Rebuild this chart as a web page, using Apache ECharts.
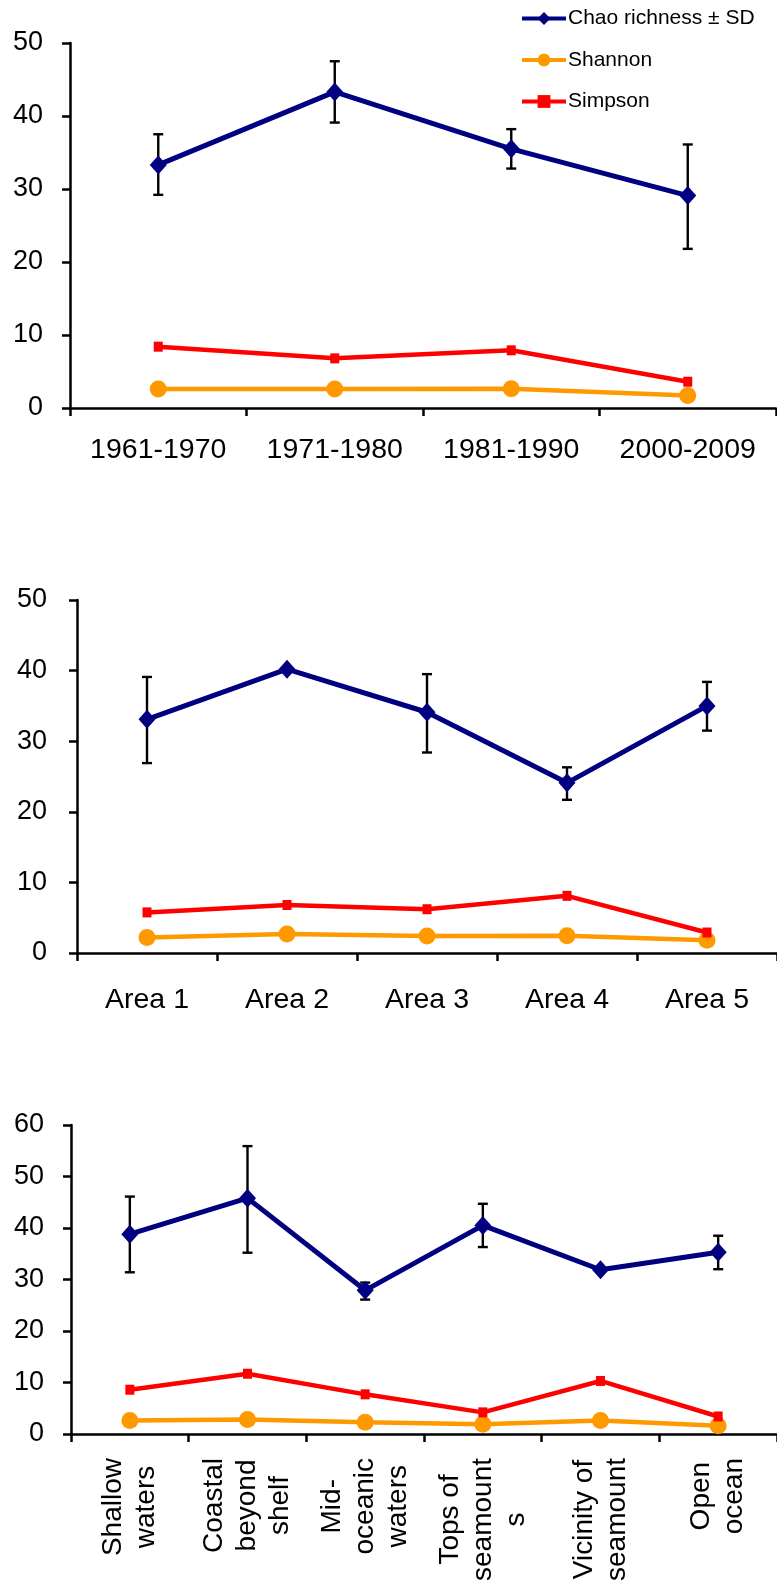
<!DOCTYPE html>
<html>
<head>
<meta charset="utf-8">
<script src="https://cdn.jsdelivr.net/npm/echarts@6/dist/echarts.min.js"></script>
<style>
html,body{margin:0;padding:0;background:#fff;}
#c{width:777px;height:1593px;}
</style>
</head>
<body>
<div id="c"></div>
<script>
// ---- data ----
const cat1 = ['1961-1970', '1971-1980', '1981-1990', '2000-2009'];
const chao1 = [33.3, 43.3, 35.5, 29.1];
const chaoHi1 = [37.5, 47.5, 38.2, 36.1];
const chaoLo1 = [29.2, 39.1, 32.8, 21.8];
const shannon1 = [2.6, 2.6, 2.65, 1.7];
const simpson1 = [8.4, 6.8, 7.9, 3.6];

const cat2 = ['Area 1', 'Area 2', 'Area 3', 'Area 4', 'Area 5'];
const chao2 = [33.1, 40.2, 34.1, 24.1, 35.0];
const chaoHi2 = [39.1, null, 39.5, 26.3, 38.4];
const chaoLo2 = [26.9, null, 28.4, 21.7, 31.5];
const shannon2 = [2.2, 2.7, 2.4, 2.45, 1.8];
const simpson2 = [5.75, 6.8, 6.2, 8.1, 2.9];

const cat3 = ['Shallow\nwaters', 'Coastal\nbeyond\nshelf', 'Mid-\noceanic\nwaters', 'Tops of\nseamount\ns', 'Vicinity of\nseamount', 'Open\nocean'];
const chao3 = [38.8, 45.8, 27.9, 40.5, 31.9, 35.3];
const chaoHi3 = [46.1, 55.9, 29.4, 44.7, null, 38.5];
const chaoLo3 = [31.4, 35.2, 26.1, 36.3, null, 32.0];
const shannon3 = [2.6, 2.8, 2.3, 1.9, 2.6, 1.6];
const simpson3 = [8.6, 11.7, 7.7, 4.2, 10.3, 3.4];

const yMax = [50, 50, 60];
const yInterval = 10;

const names = ['Chao richness ± SD', 'Shannon', 'Simpson'];

// ---- styles ----
const FONT = "'Liberation Sans', Arial, sans-serif";
const NAVY = '#000080', ORANGE = '#FF9900', RED = '#FF0000';

const grids = [
  {left: 70, top: 43, width: 706, height: 365},
  {left: 77, top: 600, width: 703, height: 353},
  {left: 71, top: 1125, width: 707, height: 309}
];
const yLabelMargin = [27, 30, 27];
const xLabelMargin = [28, 33, 24];

const datasets = [
  {cat: cat1, chao: chao1, hi: chaoHi1, lo: chaoLo1, sh: shannon1, si: simpson1},
  {cat: cat2, chao: chao2, hi: chaoHi2, lo: chaoLo2, sh: shannon2, si: simpson2},
  {cat: cat3, chao: chao3, hi: chaoHi3, lo: chaoLo3, sh: shannon3, si: simpson3}
];

const axisLineStyle = {color: '#000', width: 2.5};

const xAxes = datasets.map((d, i) => {
  const ax = {
    type: 'category', gridIndex: i, data: d.cat, boundaryGap: true,
    axisLine: {show: true, lineStyle: axisLineStyle, onZero: false},
    axisTick: {show: true, inside: false, length: 8, lineStyle: {color: '#000', width: 2.5}},
    splitLine: {show: false},
    axisLabel: {color: '#000', fontSize: 28.5, fontFamily: FONT, margin: xLabelMargin[i], interval: 0}
  };
  if (i === 2) {
    ax.axisLabel.rotate = 90;
    ax.axisLabel.formatter = v => v.split('\n').map(s => '{c|' + s + '}').join('\n');
    ax.axisLabel.rich = {c: {align: 'center', fontSize: 28, lineHeight: 33, fontFamily: FONT, color: '#000'}};
  }
  return ax;
});

const yAxes = datasets.map((d, i) => ({
  type: 'value', gridIndex: i, min: 0, max: yMax[i], interval: yInterval,
  axisLine: {show: true, lineStyle: axisLineStyle},
  axisTick: {show: true, inside: false, length: 8, lineStyle: {color: '#000', width: 2.5}},
  splitLine: {show: false},
  axisLabel: {color: '#000', fontSize: 27, fontFamily: FONT, margin: yLabelMargin[i]}
}));

function errRender(params, api) {
  const x = api.value(0), hi = api.value(1), lo = api.value(2);
  const t = api.coord([x, hi]), b = api.coord([x, lo]);
  const cap = 5;
  const st = {stroke: '#000', lineWidth: 2.4};
  return {type: 'group', children: [
    {type: 'line', shape: {x1: t[0], y1: t[1], x2: b[0], y2: b[1]}, style: st},
    {type: 'line', shape: {x1: t[0] - cap, y1: t[1], x2: t[0] + cap, y2: t[1]}, style: st},
    {type: 'line', shape: {x1: b[0] - cap, y1: b[1], x2: b[0] + cap, y2: b[1]}, style: st}
  ]};
}

const series = [];
datasets.forEach((d, i) => {
  series.push({
    type: 'custom', name: 'sd' + i, xAxisIndex: i, yAxisIndex: i, z: 1,
    renderItem: errRender,
    encode: {x: 0, y: [1, 2]},
    data: d.cat.map((c, k) => [k, d.hi[k], d.lo[k]]).filter(r => r[1] != null),
    silent: true
  });
  series.push({
    type: 'line', name: names[0], xAxisIndex: i, yAxisIndex: i, z: 3,
    data: d.chao, symbol: 'diamond', symbolSize: [17, 19], showAllSymbol: true,
    lineStyle: {color: NAVY, width: 5}, itemStyle: {color: NAVY}
  });
  series.push({
    type: 'line', name: names[1], xAxisIndex: i, yAxisIndex: i, z: 3,
    data: d.sh, symbol: 'circle', symbolSize: 17,
    lineStyle: {color: ORANGE, width: 4.5}, itemStyle: {color: ORANGE}
  });
  series.push({
    type: 'line', name: names[2], xAxisIndex: i, yAxisIndex: i, z: 3,
    data: d.si, symbol: 'rect', symbolSize: [9, 10],
    lineStyle: {color: RED, width: 4.5}, itemStyle: {color: RED}
  });
});

const chart = echarts.init(document.getElementById('c'), null, {renderer: 'canvas'});
chart.setOption({
  animation: false,
  backgroundColor: '#fff',
  legend: {
    data: names, orient: 'vertical', left: 515, top: 3,
    itemWidth: 44, itemHeight: 16, itemGap: 20.5,
    lineStyle: {width: 4},
    textStyle: {color: '#000', fontSize: 21, fontFamily: FONT, padding: [0, 0, 0, -3]}
  },
  grid: grids.map(g => Object.assign({containLabel: false}, g)),
  xAxis: xAxes,
  yAxis: yAxes,
  series: series
});
</script>
</body>
</html>
